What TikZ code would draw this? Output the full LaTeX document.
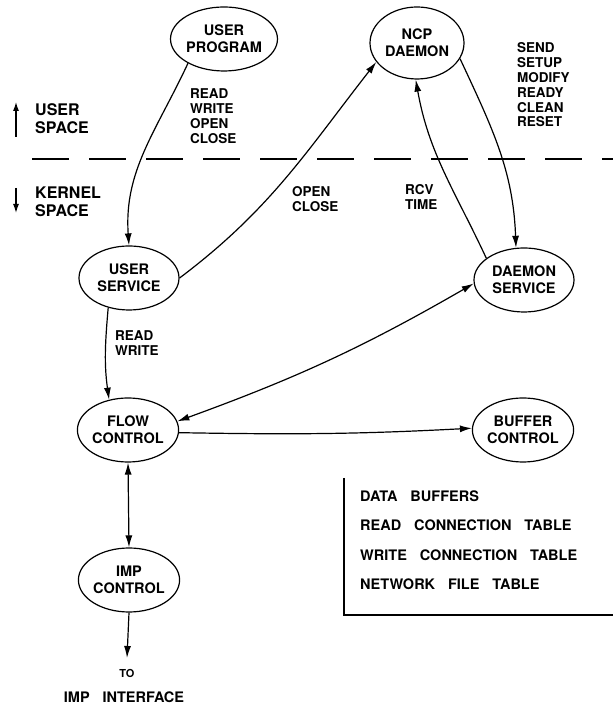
\documentclass[tikz,border=0pt]{standalone}
\usepackage{fontspec}
\setmainfont{TeX Gyre Heros}
\newfontfamily\widefont[WordSpace=3.2]{TeX Gyre Heros}
\usetikzlibrary{shapes.geometric,arrows.meta}
\tikzset{>={Latex[length=12pt,width=7pt]}}
\tikzset{
  proc/.style = {ellipse,draw,line width=1.2pt,minimum width=100pt,minimum height=64pt,
    inner sep=0pt,align=center,font=\fontsize{14.5}{17}\bfseries},
  lbl/.style = {anchor=west,align=left,inner sep=0pt,font=\fontsize{13.5}{14.8}\bfseries},
  spacelbl/.style = {anchor=west,align=left,inner sep=0pt,font=\fontsize{16}{18}\bfseries},
  tabline/.style = {anchor=west,inner sep=0pt,font=\widefont\fontsize{14.5}{17}\bfseries},
  link/.style = {line width=1.2pt}
}

\begin{document}
\begin{tikzpicture}[x=1pt,y=1pt]
  \useasboundingbox (0,0) rectangle (613,704);
  % processes
  \node[proc] (uprog) at (224,665) {USER\\PROGRAM};
  \node[proc,minimum width=94pt,minimum height=72pt] (ncp) at (417,661) {NCP\\DAEMON};
  \node[proc] (usvc) at (129,426) {USER\\SERVICE};
  \node[proc] (dsvc) at (524,424) {DAEMON\\SERVICE};
  \node[proc,minimum width=98pt] (flowc) at (128,274) {FLOW\\CONTROL};
  \node[proc] (bufc) at (523,274) {BUFFER\\CONTROL};
  \node[proc] (impc) at (129,124) {IMP\\CONTROL};
  % user / kernel boundary
  \draw[line width=1.8pt,dash pattern=on 37pt off 20pt] (32,545) -- (613,545);
  \node[spacelbl] (uspace) at (35,585) {USER\\SPACE};
  \node[spacelbl] (kspace) at (35,502) {KERNEL\\SPACE};
  \coordinate (ua) at (16,567);
  \coordinate (ub) at (16,602);
  \coordinate (ka) at (16,516);
  \coordinate (kb) at (16,491);
  \draw[link,-{Latex[length=9pt,width=6pt]}] (ua) -- (ub);
  \draw[link,-{Latex[length=9pt,width=6pt]}] (ka) -- (kb);
  % calls
  \node[lbl] (rwoc) at (190,588) {READ\\WRITE\\OPEN\\CLOSE};
  \node[lbl] (opcl) at (292,505) {OPEN\\CLOSE};
  \node[lbl] (rcvt) at (405,507) {RCV\\TIME};
  \node[lbl] (ncpcmd) at (517,619) {SEND\\SETUP\\MODIFY\\READY\\CLEAN\\RESET};
  \node[lbl] (rw) at (115,361) {READ\\WRITE};
  % connectors
  \draw[link,->] (uprog.214) to[out=-115,in=94] (usvc.north);
  \draw[link,->] (usvc.east) to[out=37,in=232] (ncp.205);
  \draw[link,->] (dsvc.150) to[out=115,in=-80] (ncp.268);
  \draw[link,->] (ncp.-20) to[out=-65,in=92] (dsvc.104);
  \draw[link,<->] (flowc.10) to[out=20,in=-150] (dsvc.184);
  \draw[link,->] (usvc.235) to[out=-95,in=98] (flowc.122);
  \draw[link,->] (flowc.-3) to[out=-1,in=183] (bufc.178);
  \draw[link,<->] (flowc.south) -- (impc.north);
  % imp interface
  \node[inner sep=0pt,font=\fontsize{11}{13}\bfseries] (to) at (127,31) {TO};
  \node[inner sep=0pt,font=\widefont\fontsize{14.5}{17}\bfseries] (impif) at (124,7) {IMP INTERFACE};
  \coordinate (toend) at (127,46);
  \draw[link,->] (impc.south) -- (toend);
  % tables
  \draw[link] (344,226) |- (613,89);
  \node[tabline] (tab1) at (360,208) {DATA BUFFERS};
  \node[tabline] (tab2) at (360,179) {READ CONNECTION TABLE};
  \node[tabline] (tab3) at (360,149) {WRITE CONNECTION TABLE};
  \node[tabline] (tab4) at (360,120) {NETWORK FILE TABLE};
\end{tikzpicture}
\end{document}
